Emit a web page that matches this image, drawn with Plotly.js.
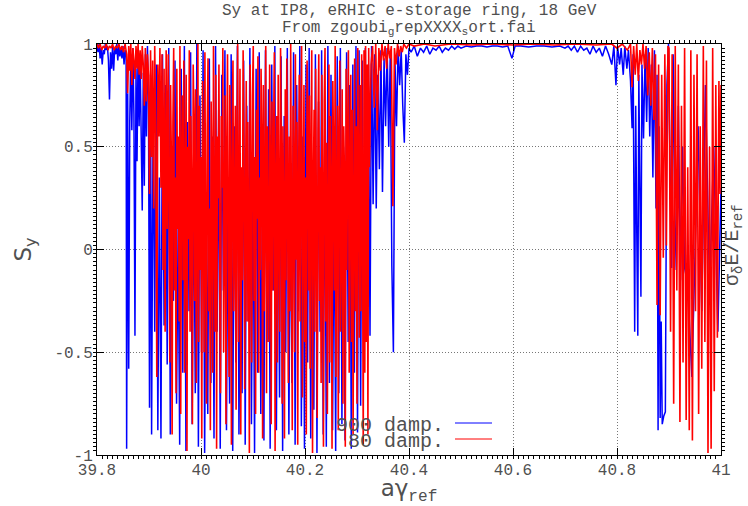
<!DOCTYPE html>
<html>
<head>
<meta charset="utf-8">
<script src="https://cdn.plot.ly/plotly-3.0.1.min.js"></script>
<style>html,body{margin:0;padding:0;background:#fff}#chart{width:748px;height:506px}</style>
</head>
<body>
<div id="chart"></div>
<script>
// Series "900 damp." (blue)
const blueX = [
39.800,39.802,39.804,39.806,39.808,39.810,39.812,39.814,39.816,39.818,39.820,39.822,39.824,39.826,39.828,39.830,39.832,39.834,39.836,39.838,39.840,39.842,39.844,39.846,39.848,39.850,39.852,39.854,
39.856,39.857,39.859,39.861,39.863,39.865,39.867,39.869,39.871,39.873,39.875,39.877,39.879,39.881,39.883,39.885,39.887,39.889,39.891,39.893,39.895,39.897,39.899,39.901,39.903,
39.905,39.908,39.911,39.914,39.917,39.920,39.923,39.926,39.929,39.932,
39.935,39.938,39.941,39.944,39.947,39.950,39.953,39.956,39.959,39.962,
39.965,39.968,39.971,39.974,39.977,39.980,39.983,39.986,39.989,39.992,
39.995,39.998,40.001,40.004,40.007,40.010,40.013,40.016,40.019,40.022,
40.025,40.028,40.031,40.034,40.037,40.040,40.043,40.046,40.049,40.052,
40.055,40.058,40.061,40.064,40.067,40.070,40.073,40.076,40.079,40.082,
40.085,40.088,40.091,40.094,40.097,40.100,40.103,40.106,40.109,40.112,
40.115,40.118,40.121,40.124,40.127,40.130,40.133,40.136,40.139,40.142,
40.145,40.148,40.151,40.154,40.157,40.160,40.163,40.166,40.169,40.172,
40.175,40.178,40.181,40.184,40.187,40.190,40.193,40.196,40.199,40.202,
40.205,40.208,40.211,40.214,40.217,40.220,40.223,40.226,40.229,40.232,
40.235,40.238,40.241,40.244,40.247,40.250,40.253,40.256,40.259,40.262,
40.265,40.268,40.271,40.274,40.277,40.280,40.283,40.286,40.289,40.292,
40.295,40.298,40.301,
40.304,40.307,40.310,40.313,40.316,40.319,40.322,40.325,40.328,40.331,40.334,40.337,40.340,40.343,40.346,40.349,40.352,40.355,40.358,40.361,40.364,40.367,40.370,40.373,40.376,40.379,40.382,40.385,40.388,40.391,40.394,40.397,40.400,
40.404,40.410,40.416,40.422,40.428,40.434,40.440,40.446,40.452,40.458,40.464,40.470,40.476,40.482,40.488,40.494,40.500,40.510,40.520,40.530,40.540,40.550,40.560,40.570,40.580,40.590,40.598,40.604,40.615,40.630,40.645,40.660,40.675,40.690,40.700,40.706,40.712,40.718,40.724,40.730,40.736,40.742,40.748,40.754,40.760,40.766,40.772,40.778,40.784,
40.790,40.794,40.798,40.801,40.805,40.808,40.812,40.815,40.819,40.822,40.826,40.829,40.831,40.834,40.836,40.838,40.840,40.842,40.844,40.846,40.848,40.851,40.854,40.857,40.860,40.863,40.866,40.869,40.872,40.875,40.877,40.879,40.881,40.883,40.885,40.887,40.890,40.893,40.896,40.899,40.902,40.905,40.908,40.911,40.914,40.918,40.922,40.926,40.930,40.936,40.944,40.950,40.956,40.963,40.970,40.978,40.986,40.994,41.000
];
const blueY = [
0.99,0.96,1.00,0.93,0.98,0.90,0.97,0.95,1.00,0.97,0.99,0.92,0.73,0.96,0.88,0.99,0.87,0.98,0.95,1.00,0.92,0.99,0.94,0.98,0.93,0.99,0.90,0.97,
0.95,-0.97,0.76,-0.58,0.62,0.95,0.58,0.98,0.66,-0.42,0.88,0.43,0.97,0.60,0.92,0.55,0.19,0.86,0.31,0.95,0.55,0.99,0.75,-0.77,0.85,
-0.90,0.72,-0.40,0.90,-0.88,0.35,-0.92,0.95,-0.37,0.80,
-0.56,0.98,-0.90,0.45,-0.25,0.92,-0.75,0.10,-0.95,0.88,
-0.60,0.99,-0.98,0.62,-0.30,0.96,-0.85,0.40,-0.70,1.00,
-0.96,0.75,-0.50,0.97,-0.99,0.20,-0.80,0.93,-0.65,0.55,
-0.92,0.99,-0.40,0.68,-0.97,0.85,-0.20,0.97,-0.88,0.30,
-0.75,0.95,-0.98,0.60,-0.55,0.99,-0.90,0.15,-0.70,0.92,
-0.95,0.70,-0.35,0.98,-0.85,0.45,-0.99,0.88,-0.60,0.96,
-0.80,0.25,-0.93,0.97,-0.45,0.78,-0.97,0.90,-0.20,0.99,
-0.88,0.50,-0.72,0.94,-0.98,0.65,-0.50,0.98,-0.90,0.35,
-0.65,0.96,-0.95,0.80,-0.30,0.99,-0.86,0.55,-0.97,0.90,
-0.55,0.98,-0.92,0.40,-0.78,0.95,-0.99,0.72,-0.40,0.97,
-0.90,0.60,-0.96,0.99,-0.65,0.85,-0.88,0.30,-0.98,0.94,
-0.70,0.98,-0.85,0.50,-0.93,0.96,-0.45,0.80,-0.97,0.90,
-0.60,0.99,-0.89,
0.97,-0.76,0.92,-0.56,0.98,-0.30,0.90,-0.42,0.99,0.22,0.95,0.20,0.85,0.39,0.97,0.28,0.93,0.60,0.98,0.50,0.96,-0.08,-0.50,0.92,0.60,0.99,0.80,0.97,0.70,0.52,0.95,0.85,0.98,
0.96,0.99,0.94,0.98,0.96,0.99,0.95,0.98,0.97,0.99,0.96,0.98,0.97,0.99,0.975,0.99,0.98,0.99,0.985,0.99,0.99,0.985,0.99,0.99,0.985,0.99,0.93,0.99,0.99,0.985,0.99,0.99,0.985,0.99,0.98,0.99,0.97,0.99,0.96,0.99,0.97,0.98,0.95,0.99,0.96,0.98,0.94,0.99,0.95,
0.90,0.99,0.80,0.99,0.90,0.98,0.85,0.99,0.88,0.97,0.82,0.59,0.95,-0.40,0.70,0.09,-0.42,0.85,0.30,-0.23,0.90,0.54,0.95,0.62,0.98,0.55,0.90,0.35,0.97,0.20,0.85,-0.88,0.60,-0.82,-0.35,-0.85,-0.81,-0.79,0.80,1.00,0.40,-0.09,0.95,0.20,-0.10,0.70,-0.15,0.50,-0.09,-0.17,-0.62,-0.03,0.60,-0.30,0.80,-0.20,0.50,-0.40,0.30
];

// Series "80 damp." (red)
const redX = [
39.800,39.803,39.806,39.809,39.812,39.815,39.818,39.821,39.824,39.827,39.830,39.833,39.836,39.839,39.842,39.845,39.848,39.851,39.854,39.857,
39.859,39.861,39.863,39.865,39.867,39.869,39.871,39.873,39.875,39.877,39.879,39.881,39.883,39.885,39.887,39.889,39.891,39.893,39.895,39.897,39.899,39.901,39.903,39.905,39.907,39.909,39.911,39.913,39.915,39.917,39.919,39.921,39.923,39.925,39.927,39.929,39.931,39.933,39.935,
39.9370,39.9385,39.9400,39.9415,39.9430,39.9445,39.9460,39.9475,39.9490,39.9505,
39.9520,39.9535,39.9550,39.9565,39.9580,39.9595,39.9610,39.9625,39.9640,39.9655,
39.9670,39.9685,39.9700,39.9715,39.9730,39.9745,39.9760,39.9775,39.9790,39.9805,
39.9820,39.9835,39.9850,39.9865,39.9880,39.9895,39.9910,39.9925,39.9940,39.9955,
39.9970,39.9985,40.0000,40.0015,40.0030,40.0045,40.0060,40.0075,40.0090,40.0105,
40.0120,40.0135,40.0150,40.0165,40.0180,40.0195,40.0210,40.0225,40.0240,40.0255,
40.0270,40.0285,40.0300,40.0315,40.0330,40.0345,40.0360,40.0375,40.0390,40.0405,
40.0420,40.0435,40.0450,40.0465,40.0480,40.0495,40.0510,40.0525,40.0540,40.0555,
40.0570,40.0585,40.0600,40.0615,40.0630,40.0645,40.0660,40.0675,40.0690,40.0705,
40.0720,40.0735,40.0750,40.0765,40.0780,40.0795,40.0810,40.0825,40.0840,40.0855,
40.0870,40.0885,40.0900,40.0915,40.0930,40.0945,40.0960,40.0975,40.0990,40.1005,
40.1020,40.1035,40.1050,40.1065,40.1080,40.1095,40.1110,40.1125,40.1140,40.1155,
40.1170,40.1185,40.1200,40.1215,40.1230,40.1245,40.1260,40.1275,40.1290,40.1305,
40.1320,40.1335,40.1350,40.1365,40.1380,40.1395,40.1410,40.1425,40.1440,40.1455,
40.1470,40.1485,40.1500,40.1515,40.1530,40.1545,40.1560,40.1575,40.1590,40.1605,
40.1620,40.1635,40.1650,40.1665,40.1680,40.1695,40.1710,40.1725,40.1740,40.1755,
40.1770,40.1785,40.1800,40.1815,40.1830,40.1845,40.1860,40.1875,40.1890,40.1905,
40.1920,40.1935,40.1950,40.1965,40.1980,40.1995,40.2010,40.2025,40.2040,40.2055,
40.2070,40.2085,40.2100,40.2115,40.2130,40.2145,40.2160,40.2175,40.2190,40.2205,
40.2220,40.2235,40.2250,40.2265,40.2280,40.2295,40.2310,40.2325,40.2340,40.2355,
40.2370,40.2385,40.2400,40.2415,40.2430,40.2445,40.2460,40.2475,40.2490,40.2505,
40.2520,40.2535,40.2550,40.2565,40.2580,40.2595,40.2610,40.2625,40.2640,40.2655,
40.2670,40.2685,40.2700,40.2715,40.2730,40.2745,40.2760,40.2775,40.2790,40.2805,
40.2820,40.2835,40.2850,40.2865,40.2880,40.2895,40.2910,40.2925,40.2940,40.2955,
40.2970,40.2985,40.3000,40.3015,40.3030,40.3045,40.3060,40.3075,40.3090,40.3105,
40.3120,40.3135,40.3150,40.3165,40.3180,40.3195,40.3210,40.3225,40.3240,
40.327,40.330,40.333,40.336,40.339,40.342,40.345,40.348,40.351,40.354,40.357,40.360,40.363,40.366,40.369,40.372,40.375,40.378,40.381,40.384,40.387,40.390,40.395,40.400,
40.410,40.430,40.450,40.480,40.520,40.560,40.600,40.640,40.680,40.720,40.760,40.790,40.800,40.810,40.820,40.826,
40.829,40.832,40.835,40.838,40.841,40.844,40.847,40.850,40.853,40.856,40.859,40.862,40.865,40.868,40.871,40.874,40.877,40.880,40.883,40.886,40.889,40.892,40.895,40.898,
40.900,40.903,40.906,40.909,40.912,40.915,40.918,40.921,40.924,40.927,40.930,40.933,40.936,40.939,40.942,40.945,40.948,40.951,40.954,40.957,40.960,40.963,40.966,40.969,40.972,40.975,40.978,40.981,40.984,40.987,40.990,40.993,40.996,40.998,41.000
];
const redY = [
1.00,0.98,1.00,0.97,0.99,0.98,1.00,0.97,0.99,0.98,1.00,0.97,0.99,0.98,1.00,0.97,0.99,0.96,1.00,0.95,
0.76,0.99,0.87,1.00,0.80,0.98,0.92,0.83,0.99,0.88,1.00,0.85,0.97,0.83,0.99,0.90,0.70,0.98,0.72,0.95,0.85,0.27,0.97,0.45,0.92,0.20,0.99,0.60,-0.62,0.90,0.55,0.98,0.30,0.95,-0.10,0.88,-0.40,0.97,0.10,
0.95,0.20,-0.55,0.80,0.45,-0.90,0.62,0.98,-0.20,0.35,
-0.70,0.88,0.10,0.55,-0.35,0.99,-0.80,0.40,0.75,-0.15,
0.92,-0.60,0.30,0.85,-0.98,0.50,0.05,0.97,-0.40,0.65,
0.25,-0.85,0.90,0.60,-0.25,0.78,-0.65,0.15,1.00,-0.45,
0.70,-0.10,0.45,-0.92,0.82,0.35,-0.50,0.96,0.00,-0.75,
0.58,0.93,-0.30,0.20,-0.88,0.72,0.40,-0.60,0.99,0.10,
-0.40,0.85,-0.97,0.55,0.25,0.90,-0.20,-0.70,0.65,0.30,
0.98,-0.50,0.15,0.75,-0.85,0.45,0.95,-0.05,-0.62,0.80,
0.35,-0.95,0.60,0.92,-0.30,0.10,0.70,-0.78,0.50,1.00,
-0.45,0.25,0.88,-0.90,0.40,-0.15,0.97,0.55,-0.68,0.20,
0.82,-0.35,0.62,0.05,-0.99,0.90,0.30,-0.55,0.75,0.99,
-0.25,0.45,-0.80,0.68,0.15,0.94,-0.60,0.35,-0.10,0.88,
0.55,-0.92,0.80,-0.30,0.25,0.99,-0.70,0.60,0.00,-0.45,
0.90,0.40,-0.85,0.72,-0.20,0.50,0.96,-0.98,0.30,0.65,
-0.55,0.85,0.10,-0.40,0.98,0.45,-0.75,0.60,0.20,-0.92,
0.78,-0.15,0.93,0.30,-0.65,0.55,-0.30,1.00,0.05,-0.88,
0.70,0.40,-0.50,0.95,-0.05,0.62,-0.95,0.25,0.85,-0.35,
0.50,0.99,-0.72,0.15,0.80,-0.45,0.35,-0.90,0.92,0.60,
-0.20,0.75,-0.58,0.45,0.97,-0.99,0.30,0.68,-0.40,0.88,
0.10,-0.82,0.58,0.95,-0.25,0.40,-0.65,0.85,0.20,-0.96,
0.72,0.98,-0.35,0.52,-0.80,0.15,0.90,-0.55,0.65,0.30,
-0.97,0.82,0.45,-0.20,0.99,-0.62,0.25,0.70,-0.88,0.55,
0.92,-0.40,0.05,0.78,-0.75,0.60,0.35,-0.96,0.88,-0.10,
0.50,0.97,-0.60,0.30,0.85,-0.45,0.68,-0.90,0.15,0.93,
-0.30,0.60,-0.75,0.98,0.40,-0.43,0.80,-0.30,0.95,0.22,
-0.95,0.97,-0.60,0.99,-0.45,0.90,-0.90,0.98,0.40,
0.90,0.99,0.69,1.00,0.58,0.98,0.87,1.00,0.92,0.99,0.88,1.00,0.93,0.99,0.21,0.98,0.90,1.00,0.94,0.99,0.96,1.00,0.98,1.00,
0.99,1.00,0.99,1.00,0.995,1.00,0.995,1.00,0.995,1.00,0.995,1.00,0.98,1.00,0.97,1.00,
0.79,0.99,0.85,1.00,0.82,0.97,0.90,1.00,0.88,0.99,0.75,0.96,0.70,0.98,0.63,0.95,-0.27,0.90,-0.32,0.85,-0.04,0.95,0.02,0.99,
0.98,-0.40,0.95,-0.75,0.99,-0.20,0.90,-0.84,0.70,-0.55,0.98,-0.83,0.40,-0.88,0.97,-0.93,0.85,-0.30,0.95,-0.80,0.60,-0.58,0.99,-0.45,0.92,-0.99,0.50,-0.97,0.98,-0.69,0.80,-0.43,0.82,0.27,0.80
];

const seriesNames = ["900 damp.", "80 damp."];
const seriesColors = ["#0000ff", "#ff0000"];
const titleLines = ["Sy at IP8, eRHIC e-storage ring, 18 GeV", "From zgoubi<sub>g</sub>repXXXX<sub>s</sub>ort.fai"];
const xTickVals = [39.8, 40, 40.2, 40.4, 40.6, 40.8, 41];
const xTickText = ["39.8", "40", "40.2", "40.4", "40.6", "40.8", "41"];
const yTickVals = [-1, -0.5, 0, 0.5, 1];
const yTickText = ["-1", "-0.5", "0", "0.5", "1"];

const mono = "Liberation Mono, DejaVu Sans Mono, monospace";
const sans = "DejaVu Sans, Liberation Sans, sans-serif";
const txt = "#505050";

const traces = [
  {x: blueX, y: blueY, type: "scatter", mode: "lines", name: seriesNames[0],
   line: {color: seriesColors[0], width: 1.5, simplify: false}, showlegend: false, hoverinfo: "skip"},
  {x: redX, y: redY, type: "scatter", mode: "lines", name: seriesNames[1],
   line: {color: seriesColors[1], width: 1.6, simplify: false}, showlegend: false, hoverinfo: "skip"}
];

const L = 97, R = 721, T = 44, B = 455, W = 748, H = 506;
const px = v => (v - L) / (R - L);
const py = v => (B - v) / (B - T);

const axisCommon = {
  showline: true, linecolor: "#000", linewidth: 1, mirror: "allticks",
  ticks: "inside", ticklen: 7, tickwidth: 1, tickcolor: "#000",
  showgrid: true, gridcolor: "#777", gridwidth: 1, griddash: "1px,2px",
  zeroline: false, tickfont: {family: mono, size: 16, color: txt}
};

const layout = {
  width: W, height: H,
  margin: {l: L, r: W - R, t: T, b: H - B, pad: 0},
  paper_bgcolor: "#fff", plot_bgcolor: "#fff",
  showlegend: false,
  xaxis: Object.assign({}, axisCommon, {
    range: [39.8, 41], tickmode: "array", tickvals: xTickVals, ticktext: xTickText,
    minor: {dtick: 0.01, ticklen: 3, tickcolor: "#000", showgrid: false},
    title: {text: "aγ<sub><span style=\"font-family:Liberation Mono\">ref</span></sub>",
            font: {family: sans, size: 23, color: txt}, standoff: 4}
  }),
  yaxis: Object.assign({}, axisCommon, {
    range: [-1, 1], tickmode: "array", tickvals: yTickVals, ticktext: yTickText,
    minor: {dtick: 0.02, ticklen: 3, tickcolor: "#000", showgrid: false},
    title: {text: "S<sub>y</sub>", font: {family: sans, size: 23, color: txt}, standoff: 16}
  }),
  annotations: [
    {text: titleLines[0], xref: "paper", yref: "paper", x: 0.5, y: py(11),
     xanchor: "center", yanchor: "middle", showarrow: false,
     font: {family: mono, size: 16, color: txt}},
    {text: titleLines[1], xref: "paper", yref: "paper", x: 0.5, y: py(28),
     xanchor: "center", yanchor: "middle", showarrow: false,
     font: {family: mono, size: 16, color: txt}},
    {text: "σ<sub>δ</sub>E/E<sub>ref</sub>", xref: "paper", yref: "paper",
     x: px(734), y: py(245), textangle: -90, showarrow: false,
     font: {family: mono, size: 20, color: txt}, xanchor: "center", yanchor: "middle"},
    {text: seriesNames[0], xref: "paper", yref: "paper", x: px(446), y: py(425),
     xanchor: "right", yanchor: "middle", showarrow: false,
     font: {family: mono, size: 20, color: txt}},
    {text: seriesNames[1], xref: "paper", yref: "paper", x: px(446), y: py(441),
     xanchor: "right", yanchor: "middle", showarrow: false,
     font: {family: mono, size: 20, color: txt}}
  ],
  shapes: [
    {type: "line", xref: "paper", yref: "paper", x0: px(455), x1: px(492), y0: py(423), y1: py(423),
     line: {color: seriesColors[0], width: 1}},
    {type: "line", xref: "paper", yref: "paper", x0: px(455), x1: px(492), y0: py(439), y1: py(439),
     line: {color: seriesColors[1], width: 1}}
  ]
};

Plotly.newPlot("chart", traces, layout, {staticPlot: true, displayModeBar: false});
</script>
</body>
</html>
